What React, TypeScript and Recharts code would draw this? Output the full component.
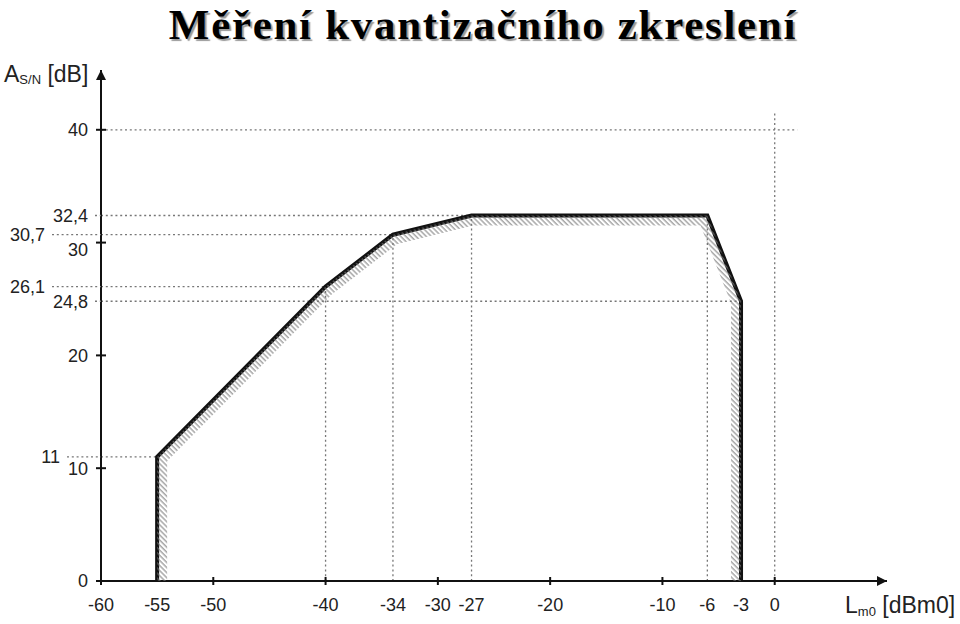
import { LineChart, Line, XAxis, YAxis, ReferenceLine } from 'recharts'

// characteristic of the quantisation S/N ratio (dB) vs. signal level (dBm0)
const curveX = [-55, -55, -40, -34, -27, -6, -3, -3]
const curveY = [0, 11, 26.1, 30.7, 32.4, 32.4, 24.8, 0]

const xTicks = [-60, -55, -50, -40, -34, -30, -27, -20, -10, -6, -3, 0]
const yTicks = [0, 10, 20, 30, 40]
const yMarks = [11, 24.8, 26.1, 30.7, 32.4]

// dotted guide lines: level and the x where they stop
const hGuideY = [40, 32.4, 30.7, 26.1, 24.8, 11]
const hGuideTo = [2, -27, -34, -40, -3, -55]
// vertical guides: x and the height where they stop
const vGuideX = [-40, -34, -27, -6, 0]
const vGuideTo = [26.1, 30.7, 32.4, 32.4, 41.6]

const data = curveX.map((x, i) => ({ x, y: curveY[i] }))

const FONT = '"Liberation Sans", Arial, sans-serif'
const GUIDE = { stroke: '#777', strokeWidth: 1.3, strokeDasharray: '2 2.8' }

// right edge of the extra y labels (px), the rest sit next to the axis
const markLabelRight: Record<string, number> = { '11': 60, '24.8': 88, '26.1': 45, '30.7': 45, '32.4': 88 }

const fmt = (v: number) => String(v).replace('.', ',')

function XTick({ x, y, payload }: any) {
  const v = payload.value as number
  return (
    <g>
      {v % 10 === 0 && <line x1={x} x2={x} y1={y - 4} y2={y + 4} stroke="#111" strokeWidth={2} />}
      <text x={x} y={y + 30} textAnchor="middle" fontSize={18} fontFamily={FONT} fill="#222">{v}</text>
    </g>
  )
}

function YTick({ x, y, payload }: any) {
  const v = payload.value as number
  const major = yTicks.includes(v)
  if (major) {
    return (
      <g>
        <line x1={x - 5} x2={x + 5} y1={y} y2={y} stroke="#111" strokeWidth={2} />
        <text x={x - 13} y={y + (v === 30 ? 7 : 0)} dy="0.36em" textAnchor="end" fontSize={18} fontFamily={FONT} fill="#222">{fmt(v)}</text>
      </g>
    )
  }
  const right = markLabelRight[String(v)] ?? 88
  return (
    <g>
      <line x1={right + 7} x2={x} y1={y} y2={y} {...GUIDE} />
      <text x={right} y={y} dy="0.36em" textAnchor="end" fontSize={18} fontFamily={FONT} fill="#222">{fmt(v)}</text>
    </g>
  )
}

// draws the hatched strip on the inner side of the curve
function HatchBand(props: any) {
  const { index, points } = props
  if (index !== 0 || !points) return <g key={`h-${index}`} />
  const open = 'M' + points.map((p: any) => `${p.x},${p.y}`).join('L')
  return (
    <g key="hatch">
      <defs>
        <clipPath id="curve-inside">
          <path d={open + 'Z'} />
        </clipPath>
      </defs>
      <path d={open} fill="none" stroke="url(#hatch)" strokeWidth={20} strokeLinejoin="miter"
            clipPath="url(#curve-inside)" />
    </g>
  )
}

export default function App() {
  return (
    <div style={{ position: 'absolute', left: 0, top: 0, width: 960, height: 624, background: '#fff', overflow: 'hidden' }}>
      <div style={{
        position: 'absolute', left: 0, top: 0, width: 966, textAlign: 'center',
        fontFamily: '"Liberation Serif", "Times New Roman", serif', fontWeight: 'bold',
        fontSize: 43, lineHeight: 'normal', letterSpacing: 1.7, color: '#000', textShadow: '2px 2px 1px #999',
      }}>
        Měření kvantizačního zkreslení
      </div>
      <LineChart width={960} height={624} data={data}
                 margin={{ top: 70, right: 73, bottom: 13, left: 41 }}>
        <defs>
          <pattern id="hatch" width={3.6} height={6} patternUnits="userSpaceOnUse" patternTransform="rotate(-45)">
            <line x1={1} y1={0} x2={1} y2={6} stroke="#7a7a7a" strokeWidth={1} />
          </pattern>
          <marker id="arrow" viewBox="0 0 10 10" refX={10} refY={5} markerUnits="userSpaceOnUse"
                  markerWidth={14} markerHeight={10} orient="auto-start-reverse">
            <path d="M0,0 L10,5 L0,10 z" fill="#111" />
          </marker>
        </defs>
        <XAxis dataKey="x" type="number" domain={[-60, 10]} ticks={xTicks} interval={0}
               height={30} tickSize={0} tickMargin={0} tickLine={false} tick={<XTick />}
               axisLine={{ stroke: '#111', strokeWidth: 2, markerEnd: 'url(#arrow)' }} />
        <YAxis type="number" domain={[0, 45.3]} ticks={[...yTicks, ...yMarks].sort((a, b) => a - b)}
               interval={0} width={60} tickSize={0} tickMargin={0} tickLine={false} tick={<YTick />}
               axisLine={{ stroke: '#111', strokeWidth: 2, markerStart: 'url(#arrow)' }} />
        {hGuideY.map((y, i) => (
          <ReferenceLine key={`h${i}`} segment={[{ x: -60, y }, { x: hGuideTo[i], y }]} {...GUIDE} />
        ))}
        {vGuideX.map((x, i) => (
          <ReferenceLine key={`v${i}`} segment={[{ x, y: 0 }, { x, y: vGuideTo[i] }]} {...GUIDE} />
        ))}
        <Line dataKey="y" stroke="none" dot={HatchBand} activeDot={false} isAnimationActive={false} />
        <Line dataKey="y" stroke="#111" strokeWidth={4} strokeLinejoin="miter" dot={false}
              activeDot={false} isAnimationActive={false} />
        <text x={4} y={82} fontFamily={FONT} fontSize={23} fill="#222">
          A<tspan fontSize={13} dy={2}>S/N</tspan><tspan dy={-2}> [dB]</tspan>
        </text>
        <text x={845} y={613} fontFamily={FONT} fontSize={23} fill="#222">
          L<tspan fontSize={13} dy={3}>m0</tspan><tspan dy={-3}> [dBm0]</tspan>
        </text>
      </LineChart>
    </div>
  )
}
